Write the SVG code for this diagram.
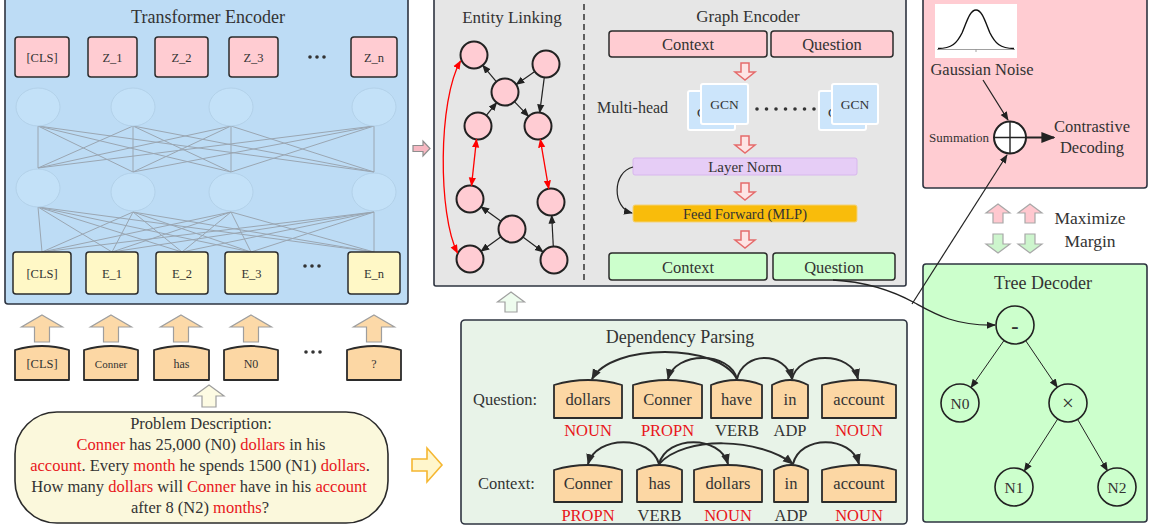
<svg xmlns="http://www.w3.org/2000/svg" xmlns:xlink="http://www.w3.org/1999/xlink" width="1153" height="527" viewBox="0 0 1153 527">
<style>
text{font-family:"Liberation Serif","Times New Roman",serif;fill:#333}
.mid{text-anchor:middle}
.red{fill:#e8161b}
.panel{stroke:#2e3440;stroke-width:1.6}
.zbox{fill:#ffccd2;stroke:#2b2b2b;stroke-width:1.5}
.ebox{fill:#fff8c6;stroke:#2b2b2b;stroke-width:1.5}
.tok{fill:#fcd7a4;stroke:#2b2b2b;stroke-width:1.8;stroke-linejoin:round}
.faint{fill:#c3e1f8;stroke:#afcde4;stroke-width:0.8}
.nn{stroke:#9aa6b2;stroke-width:1;fill:none}
.ent{fill:#ffccd3;stroke:#222;stroke-width:2}
.e{stroke:#222;stroke-width:1.2;fill:none;marker-end:url(#arr)}
.r{stroke:#f00;stroke-width:1.3;fill:none;marker-end:url(#arrR);marker-start:url(#arrR)}
.dep{stroke:#2b2b2b;stroke-width:2;fill:none;marker-end:url(#arrD)}
.t{stroke:#222;stroke-width:1;fill:none;marker-end:url(#arr)}
.tn{fill:#ccffcc;stroke:#222;stroke-width:1.6}
.redA{fill:#fde4e4;stroke:#e56b6b;stroke-width:1.5}
.gcn{fill:#cce5fb;stroke:#fff;stroke-width:2}
.dot{fill:#333}
</style>
<defs>
<marker id="arr" viewBox="0 0 10 10" refX="9" refY="5" markerWidth="9" markerHeight="9" markerUnits="userSpaceOnUse" orient="auto-start-reverse"><path d="M0,1 L10,5 L0,9 Z" fill="#222"/></marker>
<marker id="arrR" viewBox="0 0 10 10" refX="9" refY="5" markerWidth="9" markerHeight="9" markerUnits="userSpaceOnUse" orient="auto-start-reverse"><path d="M0,1 L10,5 L0,9 Z" fill="#f00"/></marker>
<marker id="arrD" viewBox="0 0 10 10" refX="9" refY="5" markerWidth="11" markerHeight="11" markerUnits="userSpaceOnUse" orient="auto"><path d="M0,1 L10,5 L0,9 Z" fill="#2b2b2b"/></marker>
<marker id="arrB" viewBox="0 0 10 10" refX="9" refY="5" markerWidth="14" markerHeight="14" markerUnits="userSpaceOnUse" orient="auto"><path d="M0,1 L10,5 L0,9 Z" fill="#222"/></marker>
<path id="tokUp" d="M0,0 L20.5,12 L7.5,12 L7.5,27 L-7.5,27 L-7.5,12 L-20.5,12 Z"/>
<path id="redDown" d="M-4,0 L4,0 L4,9 L10,9 L0,17 L-10,9 L-4,9 Z"/>
<path id="mmUp" d="M0,0 L12,9 L5,9 L5,19 L-5,19 L-5,9 L-12,9 Z"/>
<path id="mmDown" d="M-5,0 L5,0 L5,10 L12,10 L0,19 L-12,10 L-5,10 Z"/>
</defs>

<!-- Transformer Encoder -->
<g id="transformer-encoder">
<rect x="5" y="-4" width="403" height="308" rx="3" fill="#bddcf5" class="panel"/>
<text x="208" y="23" class="mid" font-size="18">Transformer Encoder</text>
<g class="nn">
<path d="M38,126 L38,168 M38,126 L133,172 M38,126 L231,172 M38,126 L374,172
M133,126 L38,168 M133,126 L133,172 M133,126 L231,172 M133,126 L374,172
M231,126 L38,168 M231,126 L133,172 M231,126 L231,172 M231,126 L374,172
M374,126 L38,168 M374,126 L133,172 M374,126 L231,172 M374,126 L374,172"/>
<path d="M38,207 L42,252 M38,207 L112,252 M38,207 L182,252 M38,207 L251,252 M38,207 L374,252
M133,212 L42,252 M133,212 L112,252 M133,212 L182,252 M133,212 L251,252 M133,212 L374,252
M231,212 L42,252 M231,212 L112,252 M231,212 L182,252 M231,212 L251,252 M231,212 L374,252
M374,212 L42,252 M374,212 L112,252 M374,212 L182,252 M374,212 L251,252 M374,212 L374,252"/>
</g>
<ellipse cx="38" cy="107" rx="22" ry="19" class="faint"/>
<ellipse cx="133" cy="107" rx="22" ry="19" class="faint"/>
<ellipse cx="231" cy="107" rx="22" ry="19" class="faint"/>
<ellipse cx="374" cy="107" rx="22" ry="19" class="faint"/>
<ellipse cx="38" cy="188" rx="22" ry="19" class="faint"/>
<ellipse cx="133" cy="192" rx="22" ry="19" class="faint"/>
<ellipse cx="231" cy="192" rx="22" ry="19" class="faint"/>
<ellipse cx="374" cy="192" rx="22" ry="19" class="faint"/>
<rect x="15" y="37" width="54" height="40" rx="3" class="zbox"/>
<rect x="88" y="37" width="49" height="40" rx="3" class="zbox"/>
<rect x="155" y="37" width="53" height="40" rx="3" class="zbox"/>
<rect x="229" y="37" width="49" height="40" rx="3" class="zbox"/>
<rect x="351" y="37" width="46" height="40" rx="3" class="zbox"/>
<g font-size="12.5">
<text x="42" y="62" class="mid">[CLS]</text>
<text x="112.5" y="62" class="mid">Z_1</text>
<text x="181.5" y="62" class="mid">Z_2</text>
<text x="253.5" y="62" class="mid">Z_3</text>
<text x="374" y="62" class="mid">Z_n</text>
</g>
<circle cx="310" cy="57" r="1.8" class="dot"/><circle cx="317" cy="57" r="1.8" class="dot"/><circle cx="324" cy="57" r="1.8" class="dot"/>
<rect x="13" y="252" width="58" height="42" rx="3" class="ebox"/>
<rect x="86" y="252" width="52" height="42" rx="3" class="ebox"/>
<rect x="156" y="252" width="52" height="42" rx="3" class="ebox"/>
<rect x="225" y="252" width="53" height="42" rx="3" class="ebox"/>
<rect x="348" y="252" width="52" height="42" rx="3" class="ebox"/>
<g font-size="12.5">
<text x="42" y="278" class="mid">[CLS]</text>
<text x="112" y="278" class="mid">E_1</text>
<text x="182" y="278" class="mid">E_2</text>
<text x="251.5" y="278" class="mid">E_3</text>
<text x="374" y="278" class="mid">E_n</text>
</g>
<circle cx="305" cy="266" r="1.8" class="dot"/><circle cx="312" cy="266" r="1.8" class="dot"/><circle cx="319" cy="266" r="1.8" class="dot"/>
</g>

<!-- Input tokens -->
<g id="input-tokens">
<g fill="#fcd9a8" stroke="#9e9e9e" stroke-width="1.2">
<use xlink:href="#tokUp" x="42" y="315"/>
<use xlink:href="#tokUp" x="111" y="315"/>
<use xlink:href="#tokUp" x="181" y="315"/>
<use xlink:href="#tokUp" x="251" y="315"/>
<use xlink:href="#tokUp" x="374" y="315"/>
</g>
<path d="M15,380 V350 Q42,342 69,350 V380 Z" class="tok"/>
<path d="M84,380 V350 Q111,342 138,350 V380 Z" class="tok"/>
<path d="M154,380 V350 Q181.5,342 209,350 V380 Z" class="tok"/>
<path d="M224,380 V350 Q251,342 278,350 V380 Z" class="tok"/>
<path d="M347,380 V350 Q374,342 401,350 V380 Z" class="tok"/>
<text x="42" y="368" class="mid" font-size="12.5">[CLS]</text>
<text x="111" y="368" class="mid" font-size="11">Conner</text>
<text x="181.5" y="368" class="mid" font-size="12">has</text>
<text x="251" y="368" class="mid" font-size="12">N0</text>
<text x="374" y="368" class="mid" font-size="12">?</text>
<circle cx="306" cy="352" r="1.8" class="dot"/><circle cx="313" cy="352" r="1.8" class="dot"/><circle cx="320" cy="352" r="1.8" class="dot"/>
</g>

<!-- Problem description -->
<g id="problem-description">
<path d="M209,385 L224,396 L216,396 L216,407 L202,407 L202,396 L194,396 Z" fill="#fdfbe3" stroke="#9e9e9e" stroke-width="1.2"/>
<rect x="15" y="412" width="373" height="111" rx="42" fill="#fbf8dc" stroke="#2b2b2b" stroke-width="1.6"/>
<g font-size="16.5">
<text x="201" y="429" class="mid">Problem Description:</text>
<text x="201" y="450" class="mid"><tspan class="red">Conner</tspan> has 25,000 (N0) <tspan class="red">dollars</tspan> in his</text>
<text x="200" y="471" class="mid"><tspan class="red">account</tspan>. Every <tspan class="red">month</tspan> he spends 1500 (N1) <tspan class="red">dollars</tspan>.</text>
<text x="199" y="492" class="mid">How many <tspan class="red">dollars</tspan> will <tspan class="red">Conner</tspan> have in his <tspan class="red">account</tspan></text>
<text x="200" y="513" class="mid">after 8 (N2) <tspan class="red">months</tspan>?</text>
</g>
</g>

<!-- Entity linking + Graph encoder -->
<g id="graph-panel">
<rect x="434" y="-4" width="472" height="290" rx="2" fill="#e6e6e6" class="panel"/>
<line x1="584" y1="4" x2="584" y2="283" stroke="#333" stroke-width="1.5" stroke-dasharray="6,4"/>
</g>
<g id="entity-linking">
<text x="512" y="23" class="mid" font-size="17">Entity Linking</text>
<circle cx="474" cy="55" r="13.5" class="ent"/>
<circle cx="546" cy="64" r="13.5" class="ent"/>
<circle cx="505" cy="92" r="13.5" class="ent"/>
<circle cx="478" cy="126" r="13.5" class="ent"/>
<circle cx="538" cy="126" r="13.5" class="ent"/>
<circle cx="470" cy="199" r="13.5" class="ent"/>
<circle cx="551" cy="202" r="13.5" class="ent"/>
<circle cx="512" cy="229" r="13.5" class="ent"/>
<circle cx="470" cy="259" r="13.5" class="ent"/>
<circle cx="554" cy="260" r="13.5" class="ent"/>
</g>
<g id="graph-encoder">
<text x="748" y="22" class="mid" font-size="17">Graph Encoder</text>
<rect x="609" y="31" width="158" height="26" rx="3" fill="#ffccd2" stroke="#2b2b2b" stroke-width="1.5"/>
<rect x="771" y="31" width="122" height="26" rx="3" fill="#ffccd2" stroke="#2b2b2b" stroke-width="1.5"/>
<text x="688" y="50" class="mid" font-size="16.5">Context</text>
<text x="832" y="50" class="mid" font-size="16.5">Question</text>
<use xlink:href="#redDown" x="745" y="63" class="redA"/>
<text x="597" y="113" font-size="16">Multi-head</text>
<rect x="688" y="91" width="47" height="39" rx="2" class="gcn"/>
<text x="697" y="117" font-size="13.5">G</text>
<rect x="701" y="84" width="47" height="40" rx="2" class="gcn"/>
<text x="724.5" y="109" class="mid" font-size="13.5">GCN</text>
<g class="dot">
<circle cx="757" cy="109" r="1.8"/><circle cx="766.5" cy="109" r="1.8"/><circle cx="776" cy="109" r="1.8"/><circle cx="785.5" cy="109" r="1.8"/><circle cx="795" cy="109" r="1.8"/><circle cx="804.5" cy="109" r="1.8"/><circle cx="814" cy="109" r="1.8"/>
</g>
<rect x="819" y="91" width="47" height="39" rx="2" class="gcn"/>
<text x="828" y="117" font-size="13.5">G</text>
<rect x="832" y="84" width="46" height="40" rx="2" class="gcn"/>
<text x="855" y="109" class="mid" font-size="13.5">GCN</text>
<use xlink:href="#redDown" x="745" y="136" class="redA"/>
<rect x="633" y="158" width="224" height="17" rx="2" fill="#e6cdf6" stroke="#d8b6ee" stroke-width="1"/>
<text x="745" y="172" class="mid" font-size="15">Layer Norm</text>
<use xlink:href="#redDown" x="745" y="183" class="redA"/>
<rect x="633" y="205" width="224" height="17" rx="2" fill="#f9bc0b" stroke="#f3d27a" stroke-width="1"/>
<text x="745" y="219" class="mid" font-size="14.5">Feed Forward (MLP)</text>
<use xlink:href="#redDown" x="745" y="231" class="redA"/>
<rect x="609" y="253" width="158" height="27" rx="3" fill="#ccffcc" stroke="#2b2b2b" stroke-width="1.5"/>
<rect x="773" y="253" width="122" height="27" rx="3" fill="#ccffcc" stroke="#2b2b2b" stroke-width="1.5"/>
<text x="688" y="273" class="mid" font-size="16.5">Context</text>
<text x="834" y="273" class="mid" font-size="16.5">Question</text>
</g>

<!-- Contrastive decoding panel -->
<g id="contrastive-decoding">
<rect x="923" y="-4" width="224" height="192" rx="3" fill="#ffccd2" class="panel"/>
<rect x="935" y="4" width="82" height="54" fill="#fff"/>
<line x1="937" y1="49.5" x2="1015" y2="49.5" stroke="#888" stroke-width="0.8"/>
<line x1="976" y1="49.5" x2="976" y2="52" stroke="#888" stroke-width="0.8"/>
<path d="M938,48.5 C952,48.5 957,43 962,33 C967,21 970,10 976,10 C982,10 985,21 990,33 C995,43 1000,48.5 1014,48.5" fill="none" stroke="#111" stroke-width="1.4"/>
<text x="982" y="75" class="mid" font-size="16.5">Gaussian Noise</text>
<text x="989" y="142" text-anchor="end" font-size="13">Summation</text>
<circle cx="1010" cy="137.5" r="16" fill="#fff" stroke="#222" stroke-width="2"/>
<path d="M994,137.5 H1026 M1010,121.5 V153.5" stroke="#222" stroke-width="1.4"/>
<text x="1092" y="132" class="mid" font-size="16.5">Contrastive</text>
<text x="1092" y="153" class="mid" font-size="16.5">Decoding</text>
</g>

<!-- Maximize margin -->
<g id="maximize-margin">
<g fill="#ffc8cf" stroke="#a8a8a8" stroke-width="1.2">
<use xlink:href="#mmUp" x="998" y="204"/>
<use xlink:href="#mmUp" x="1030" y="204"/>
</g>
<g fill="#cdf5cd" stroke="#a8a8a8" stroke-width="1.2">
<use xlink:href="#mmDown" x="998" y="234"/>
<use xlink:href="#mmDown" x="1030" y="234"/>
</g>
<text x="1090" y="224" class="mid" font-size="17.5">Maximize</text>
<text x="1090" y="247" class="mid" font-size="17.5">Margin</text>
</g>

<!-- Tree decoder -->
<g id="tree-decoder">
<rect x="923" y="264" width="224" height="258" rx="3" fill="#ccffcc" class="panel"/>
<text x="1043" y="289" class="mid" font-size="18">Tree Decoder</text>
<circle cx="1015" cy="325" r="19" class="tn"/>
<text x="1015" y="333" class="mid" font-size="22" font-weight="bold">-</text>
<circle cx="960" cy="403" r="19" class="tn"/>
<text x="960" y="408.5" class="mid" font-size="15.5">N0</text>
<circle cx="1068" cy="403" r="19" class="tn"/>
<text x="1068" y="410" class="mid" font-size="21">×</text>
<circle cx="1014" cy="487" r="19" class="tn"/>
<text x="1014" y="492.5" class="mid" font-size="15.5">N1</text>
<circle cx="1117" cy="487" r="19" class="tn"/>
<text x="1117" y="492.5" class="mid" font-size="15.5">N2</text>
</g>

<!-- Dependency parsing -->
<g id="dependency-parsing">
<rect x="461" y="320" width="446" height="204" rx="4" fill="#e8f3e8" class="panel"/>
<text x="680" y="343" class="mid" font-size="18">Dependency Parsing</text>
<text x="473" y="405" font-size="16.5">Question:</text>
<text x="478" y="489" font-size="16.5">Context:</text>
<path d="M554,418 V385 Q588,375 622,385 V418 Z" class="tok"/>
<path d="M633,418 V385 Q667.5,375 702,385 V418 Z" class="tok"/>
<path d="M711,418 V385 Q736.5,375 762,385 V418 Z" class="tok"/>
<path d="M772,418 V385 Q790,375 808,385 V418 Z" class="tok"/>
<path d="M822,418 V385 Q859,375 896,385 V418 Z" class="tok"/>
<g font-size="16.5">
<text x="588" y="405" class="mid">dollars</text>
<text x="667.5" y="405" class="mid">Conner</text>
<text x="736.5" y="405" class="mid">have</text>
<text x="790" y="405" class="mid">in</text>
<text x="859" y="405" class="mid">account</text>
<text x="588" y="436" class="mid red">NOUN</text>
<text x="667.5" y="436" class="mid red">PROPN</text>
<text x="737" y="436" class="mid" fill="#444">VERB</text>
<text x="790" y="436" class="mid" fill="#444">ADP</text>
<text x="859" y="436" class="mid red">NOUN</text>
</g>
<path d="M554,502 V470 Q588,460 622,470 V502 Z" class="tok"/>
<path d="M637,502 V470 Q659.5,460 682,470 V502 Z" class="tok"/>
<path d="M694,502 V470 Q728,460 762,470 V502 Z" class="tok"/>
<path d="M774,502 V470 Q791,460 808,470 V502 Z" class="tok"/>
<path d="M822,502 V470 Q859,460 896,470 V502 Z" class="tok"/>
<g font-size="16.5">
<text x="588" y="489" class="mid">Conner</text>
<text x="659.5" y="489" class="mid">has</text>
<text x="728" y="489" class="mid">dollars</text>
<text x="791" y="489" class="mid">in</text>
<text x="859" y="489" class="mid">account</text>
<text x="588" y="521" class="mid red">PROPN</text>
<text x="659.5" y="521" class="mid" fill="#444">VERB</text>
<text x="728" y="521" class="mid red">NOUN</text>
<text x="791" y="521" class="mid" fill="#444">ADP</text>
<text x="859" y="521" class="mid red">NOUN</text>
</g>
</g>

<!-- Panel-to-panel block arrows -->
<g id="flow-arrows">
<path d="M413,145.5 L423,145.5 L423,141 L430,148.5 L423,156 L423,151.5 L413,151.5 Z" fill="#f7b8c2" stroke="#8e8e8e" stroke-width="1.2"/>
<path d="M511,292 L524.5,302 L517,302 L517,312 L505,312 L505,302 L497.5,302 Z" fill="#eefcee" stroke="#a0a0a0" stroke-width="1.2"/>
<path d="M412,459 L427,459 L427,448 L442,465 L427,482 L427,471 L412,471 Z" fill="#fff6cc" stroke="#f5b731" stroke-width="1.6"/>
</g>

<!-- Connectors -->
<g id="connectors">
<path class="e" d="M496.3,81.7 L482.7,65.3"/>
<path class="e" d="M534.8,71.6 L516.2,84.4"/>
<path class="e" d="M544.3,77.4 L539.7,112.6"/>
<path class="e" d="M486.4,115.4 L496.6,102.6"/>
<path class="e" d="M514.4,101.7 L528.6,116.3"/>
<path class="e" d="M501,221.2 L481,206.8"/>
<path class="e" d="M501,236.8 L481,251.2"/>
<path class="e" d="M522.9,237 L543.1,252"/>
<path class="e" d="M553.3,246.5 L551.7,215.5"/>
<path class="r" d="M476.5,139.4 L471.5,185.6"/>
<path class="r" d="M540.3,139.3 L548.7,188.7"/>
<path class="r" d="M460.5,61 C438,100 438,215 457.5,253"/>
<path d="M633,167 C612,172 612,208 632,213" stroke="#222" stroke-width="1.2" fill="none" marker-end="url(#arr)"/>
<path class="dep" d="M737,379 C718,343 612,343 592,379"/>
<path class="dep" d="M737,379 C730,351 675,351 668,379"/>
<path class="dep" d="M737,379 C744,351 785,351 792,379"/>
<path class="dep" d="M792,379 C799,351 851,351 858,379"/>
<path class="dep" d="M659,464 C651,435 596,435 588,464"/>
<path class="dep" d="M659,464 C667,435 720,435 728,464"/>
<path class="dep" d="M659,464 C685,435 760,438 793,464"/>
<path class="dep" d="M793,464 C800,435 851,435 859,464"/>
<path d="M833,280 C870,282 895,292 915,303 C935,314 955,326 995,325" stroke="#222" stroke-width="1.3" fill="none" marker-end="url(#arr)"/>
<path d="M912,304 L1007,155" stroke="#222" stroke-width="1.2" fill="none" marker-end="url(#arr)"/>
<path d="M983,80 L1008,120" stroke="#222" stroke-width="1.2" fill="none" marker-end="url(#arr)"/>
<path d="M1026,137.5 L1054,137.5" stroke="#222" stroke-width="2" fill="none" marker-end="url(#arrB)"/>
<path class="t" d="M1004,340.5 L971,387.5"/>
<path class="t" d="M1025.7,340.7 L1057.3,387.3"/>
<path class="t" d="M1057.7,419 L1024.3,471"/>
<path class="t" d="M1077.6,419.4 L1107.4,470.6"/>
</g>
</svg>
